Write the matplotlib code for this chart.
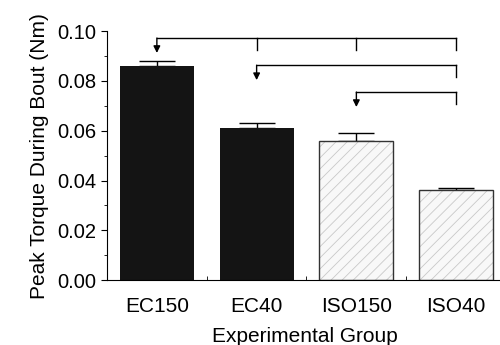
import matplotlib.pyplot as plt
import numpy as np

plt.rcParams['font.family'] = ['Liberation Sans', 'DejaVu Sans']
plt.rcParams['hatch.linewidth'] = 0.6

groups = ["EC150", "EC40", "ISO150", "ISO40"]
torque = [0.086, 0.061, 0.056, 0.036]
sem = [0.002, 0.002, 0.003, 0.001]

# brackets: (from group, to groups, line height, tick bottom, arrow tip)
brackets = [
    (0, [1, 2, 3], 0.0972, 0.0924, 0.0912),
    (1, [3], 0.0863, 0.0815, 0.0803),
    (2, [3], 0.0755, 0.0707, 0.0695),
]

fig = plt.figure(figsize=(5, 3.45), dpi=100)
ax = fig.add_axes([0.214, 0.188, 0.79, 0.722])

x = np.arange(len(groups))
for i in range(len(groups)):
    if groups[i].startswith('EC'):
        ax.bar(x[i], torque[i], width=0.74, color='#141414', zorder=2)
    else:
        # hatch drawn in light grey, outline on top in dark grey
        ax.bar(x[i], torque[i], width=0.74, color='#f8f8f8', edgecolor='#c8c8c8',
               linewidth=0, hatch='///', zorder=2)
        ax.bar(x[i], torque[i], width=0.74, fill=False, edgecolor='#333333',
               linewidth=1.0, zorder=3)
    ax.errorbar(x[i], torque[i], yerr=[[0], [sem[i]]], color='black',
                capsize=13, elinewidth=1, capthick=1, zorder=1)

for src, dsts, top, bot, tip in brackets:
    ax.plot([x[src], x[dsts[-1]]], [top, top], color='black', lw=1, clip_on=False)
    for d in dsts:
        ax.plot([x[d], x[d]], [top, bot], color='black', lw=1, clip_on=False)
    ax.annotate('', xy=(x[src], tip), xytext=(x[src], top),
                arrowprops=dict(arrowstyle='-|>', color='black', lw=1,
                                mutation_scale=10, shrinkA=0, shrinkB=0))

ax.set_xlim(-0.5, 3.46)
ax.set_ylim(0, 0.10)
ax.set_yticks([0, 0.02, 0.04, 0.06, 0.08, 0.10])
ax.set_yticks(np.arange(0.01, 0.1, 0.02), minor=True)
ax.yaxis.set_major_formatter(plt.FormatStrFormatter('%.2f'))
ax.set_xticks(x)
ax.set_xticklabels(groups)
ax.set_xticks([0.5, 1.5, 2.5], minor=True)
ax.tick_params(axis='x', which='major', length=0, pad=12, labelsize=15)
ax.tick_params(axis='x', which='minor', length=3, direction='in')
ax.tick_params(axis='y', which='major', length=4, labelsize=14.5)
ax.tick_params(axis='y', which='minor', length=2)
for s in ['top', 'right']:
    ax.spines[s].set_visible(False)
ax.set_ylabel('Peak Torque During Bout (Nm)', fontsize=15, labelpad=6)
ax.set_xlabel('Experimental Group', fontsize=15, labelpad=8)

fig.savefig('out.png', dpi=100)
